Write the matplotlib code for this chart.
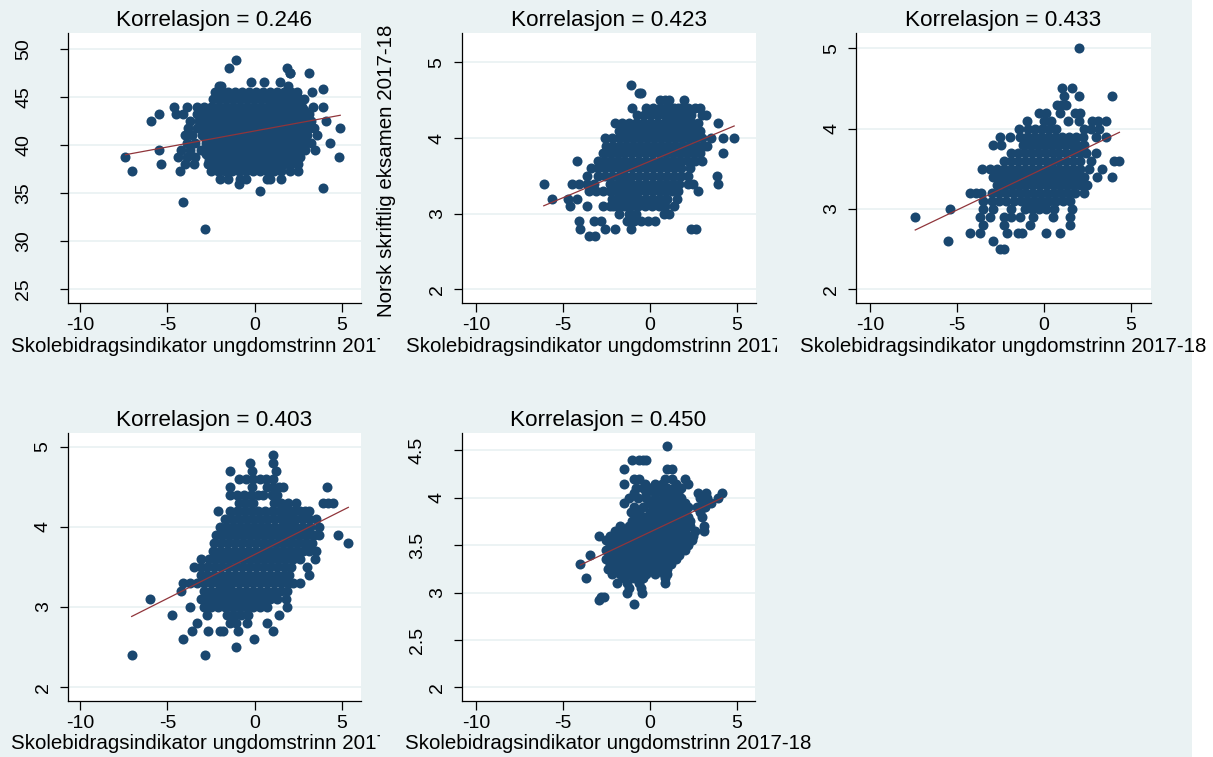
import numpy as np
import matplotlib
matplotlib.use("Agg")
import matplotlib.pyplot as plt
from matplotlib.patches import Rectangle
from matplotlib.transforms import Bbox, TransformedBbox, ScaledTranslation

plt.rcParams['font.family'] = ['Liberation Sans', 'DejaVu Sans']
plt.rcParams['axes.unicode_minus'] = False

# farger (Stata s2color)
bg = '#eaf2f3'
navy = '#1a476f'
maroon = '#90353b'

# tekster
corr_labels = ["0.246", "0.423", "0.433", "0.403", "0.450"]
xtitle = "Skolebidragsindikator ungdomstrinn 2017-18"
ytitle = "Norsk skriftlig eksamen 2017-18"
xticks = [-10, -5, 0, 5]
xticklabels = ["-10", "-5", "0", "5"]

# punkter: (y, [x-verdier]) lest av figuren
p1_rows = [
    (48.9, [-1.07]),
    (48.05, [-1.45, 1.83]),
    (47.5, [2.0, 2.05, 3.13]),
    (46.6, [-0.2, 0.55, 1.45]),
    (46.1, [-2.05, -1.9, 1.9]),
    (45.8, [3.9]),
    (45.5, [-2.3, -1.9, -1.5, -1.1, -0.7, -0.3, 0.1, 0.5, 0.9, 1.3, 1.7, 2.1, 2.4, 3.3]),
    (45.3, [0.8, 1.4, 1.9, 2.3]),
    (45.1, [1.2, 1.6, 2.0, 2.4]),
    (44.75, [-2.4, -2.0, -1.6, -1.2, -0.8, -0.4, 0.0, 0.4, 0.8, 1.2, 1.6, 2.0, 2.4, 2.8]),
    (44.4, [1.0, 1.4, 1.8, 2.2, 2.6]),
    (44.2, [0.9, 1.3, 1.7, 2.1, 2.5]),
    (44.0, [-4.6, -3.9, -3.3, -2.9, -2.5, -2.1, -1.7, -1.3, -0.9, -0.5, -0.1, 0.3, 0.7, 1.1, 1.5, 1.9, 2.3, 2.7, 3.35, 3.9]),
    (43.6, [1.2, 1.6, 2.0, 2.4, 2.8]),
    (43.25, [-5.5, -4.5, -4.1, -3.3, -2.9, -2.5, -2.1, -1.7, -1.3, -0.9, -0.5, -0.1, 0.3, 0.7, 1.1, 1.5, 1.9, 2.3, 2.7, 3.1]),
    (43.0, [1.0, 1.4, 1.8, 2.2, 2.6]),
    (42.9, [1.6, 2.0, 2.4]),
    (42.5, [-5.95, -3.7, -3.2, -2.8, -2.4, -2.0, -1.6, -1.2, -0.8, -0.4, 0.0, 0.4, 0.8, 1.2, 1.6, 2.0, 2.4, 2.8, 3.2, 4.1]),
    (41.75, [-3.8, -3.3, -2.9, -2.5, -2.1, -1.7, -1.3, -0.9, -0.5, -0.1, 0.3, 0.7, 1.1, 1.5, 1.9, 2.3, 2.7, 3.1, 3.4, 4.9]),
    (41.0, [-4.0, -3.6, -3.0, -2.6, -2.2, -1.8, -1.4, -1.0, -0.6, -0.2, 0.2, 0.6, 1.0, 1.4, 1.8, 2.2, 2.6, 3.0, 3.55]),
    (40.6, [-2.8, -2.4, -2.0, -1.6]),
    (40.25, [-3.9, -3.4, -2.8, -2.4, -2.0, -1.6, -1.2, -0.8, -0.4, 0.0, 0.4, 0.8, 1.2, 1.6, 2.0, 2.4, 2.8, 3.2, 4.3]),
    (39.9, [-2.6, -2.2, -1.8]),
    (39.5, [-5.5, -4.2, -3.7, -3.1, -2.7, -2.3, -1.9, -1.5, -1.1, -0.7, -0.3, 0.1, 0.5, 0.9, 1.3, 1.7, 2.1, 2.5, 2.9, 3.45]),
    (39.3, [-2.5, -2.1, -1.7, -1.3, -0.9]),
    (39.1, [-2.8, -2.4, -2.0, -1.6, -1.2]),
    (38.75, [-7.4, -4.4, -3.9, -3.4, -2.6, -2.2, -1.8, -1.4, -1.0, -0.6, -0.2, 0.2, 0.6, 1.0, 1.4, 1.8, 2.2, 2.6, 4.85]),
    (38.4, [-2.6, -2.2, -1.8, -1.4, -1.0]),
    (38.2, [-2.4, -2.0, -1.6, -1.2, -0.8]),
    (38.0, [-5.35, -4.0, -3.5, -2.7, -2.3, -1.9, -1.5, -1.1, -0.7, -0.3, 0.1, 0.5, 0.9, 1.3, 1.7, 2.1, 2.5]),
    (37.6, [-2.3, -1.9, -1.5, -1.1]),
    (37.25, [-7.0, -4.3, -2.5, -2.1, -1.7, -1.3, -0.9, -0.5, -0.1, 0.3, 0.7, 1.1, 1.5, 2.0, 2.5]),
    (36.5, [-2.0, -1.5, -0.85, -0.5, 0.7, 0.9, 1.5]),
    (35.9, [-0.9]),
    (35.5, [3.9]),
    (35.25, [0.3]),
    (34.1, [-4.1]),
    (31.3, [-2.85]),
]

p2_rows = [
    (4.7, [-1.1]),
    (4.6, [-0.65, -0.5]),
    (4.5, [0.6, 0.85, 1.1, 1.95]),
    (4.4, [-1.05, -0.2, 0.2, 0.6, 1.0, 1.2, 1.4, 1.6, 1.8, 2.0, 2.2, 2.6, 2.9]),
    (4.3, [-0.75, -0.35, 0.05, 0.45, 0.85, 1.05, 1.25, 1.45, 1.65, 1.85, 2.05, 2.2, 2.35, 3.0, 3.25]),
    (4.2, [-2.0, -1.6, -1.2, -0.8, -0.4, 0.0, 0.4, 0.8, 1.2, 1.4, 1.6, 1.8, 2.0, 2.2, 2.4, 2.8, 3.9]),
    (4.1, [-1.8, -1.4, -1.0, -0.6, -0.2, 0.2, 0.6, 1.0, 1.4, 1.6, 1.8, 2.0, 2.2, 2.6, 2.9]),
    (4.0, [-2.6, -2.2, -1.8, -1.4, -1.0, -0.6, -0.2, 0.2, 0.6, 1.0, 1.4, 1.8, 2.2, 2.6, 3.0, 3.5, 4.2, 4.85]),
    (3.9, [-2.5, -2.1, -1.7, -1.3, -0.9, -0.5, -0.1, 0.3, 0.7, 1.1, 1.5, 1.9, 2.3, 2.7, 3.1, 3.3]),
    (3.8, [-2.7, -2.3, -1.9, -1.5, -1.1, -0.7, -0.3, 0.1, 0.5, 0.9, 1.3, 1.7, 2.1, 2.5, 2.9, 4.2]),
    (3.7, [-4.2, -3.0, -2.6, -2.2, -1.8, -1.4, -1.0, -0.6, -0.2, 0.2, 0.6, 1.0, 1.4, 1.8, 2.2, 2.6, 3.0]),
    (3.6, [-3.4, -3.0, -2.6, -2.2, -1.8, -1.4, -1.0, -0.6, -0.2, 0.2, 0.6, 1.0, 1.4, 1.8, 2.3]),
    (3.5, [-3.6, -3.0, -2.6, -2.2, -1.8, -1.4, -1.0, -0.6, -0.2, 0.2, 0.6, 1.0, 1.4, 1.8, 2.2, 3.85]),
    (3.4, [-6.1, -4.5, -4.1, -3.6, -3.2, -2.3, -1.9, -1.7, -1.5, -1.3, -1.1, -0.7, -0.3, 0.1, 0.5, 0.9, 1.3, 1.7, 2.2, 2.5, 3.9]),
    (3.3, [-3.5, -3.1, -2.7, -2.3, -1.9, -1.7, -1.5, -1.3, -1.1, -0.7, -0.3, 0.1, 0.5, 0.9, 1.3, 1.6, 2.8]),
    (3.2, [-5.6, -4.7, -4.2, -2.2, -1.9, -1.8, -1.6, -1.4, -1.2, -1.0, -0.8, -0.6, -0.2, 0.2, 0.6, 1.0, 1.55]),
    (3.1, [-4.6, -3.6, -2.7, -2.3, -2.1, -1.9, -1.7, -1.5, -1.3, -1.1, -0.7, -0.3, 0.1, 0.5, 0.9, 1.4]),
    (3.0, [-1.8, -1.2, -0.8, 0.8, 1.1]),
    (2.9, [-4.1, -3.2, -2.8, -1.3, -0.9, -0.5, -0.1, 0.3]),
    (2.8, [-4.0, -2.6, -2.0, -1.1, 2.35, 2.65]),
    (2.7, [-3.5, -3.15]),
]

p3_rows = [
    (5.0, [2.05]),
    (4.5, [1.03, 1.6]),
    (4.4, [1.15, 2.0, 3.95]),
    (4.3, [0.75, 1.0, 1.25]),
    (4.2, [-0.26, 0.15, 0.95, 1.8, 2.1]),
    (4.1, [-0.95, 0.0, 0.4, 1.4, 2.0, 2.75, 3.1, 3.6]),
    (4.0, [-1.45, -0.9, -0.5, -0.1, 0.3, 0.7, 2.3, 2.7, 3.15]),
    (3.9, [-2.5, -1.95, -1.35, -0.95, -0.55, -0.15, 0.25, 0.65, 1.05, 1.45, 1.85, 2.25, 3.0, 3.6]),
    (3.8, [-2.9, -2.45, -1.2, -0.8, -0.4, 0.0, 0.4, 0.8, 1.2, 1.6, 1.9, 2.3]),
    (3.7, [-1.9, -1.5, -1.1, -0.7, -0.3, 0.1, 0.5, 0.9, 1.3, 1.7, 2.1, 2.4, 3.0]),
    (3.6, [-2.3, -1.9, -1.5, -1.1, -0.7, -0.3, 0.1, 0.5, 0.9, 1.3, 1.7, 2.1, 2.7, 4.05, 4.35]),
    (3.5, [-3.55, -3.1, -2.7, -2.3, -1.9, -1.5, -1.1, -0.7, -0.3, 0.1, 0.5, 0.9, 1.3, 1.7, 2.1, 2.6, 3.35]),
    (3.4, [-2.9, -2.5, -2.1, -1.7, -1.3, -0.9, -0.5, -0.1, 0.3, 0.7, 1.1, 1.5, 1.9, 2.3, 3.05, 3.9]),
    (3.3, [-2.7, -2.3, -1.9, -1.5, -1.1, -0.7, -0.3, 0.1, 0.5, 0.9, 1.3, 1.7, 2.1, 2.5]),
    (3.2, [-4.25, -3.9, -3.6, -3.0, -2.6, -2.2, -1.8, -1.4, -1.0, -0.6, -0.2, 0.2, 0.6, 1.0, 1.4, 1.8, 2.3]),
    (3.1, [-3.5, -3.0, -2.6, -2.2, -1.7, -1.3, -0.9, -0.5, -0.1, 0.3, 0.7, 1.1, 1.5]),
    (3.0, [-5.4, -3.5, -2.9, -1.9, -1.1, -0.7, -0.3, 0.1, 0.6, 1.6]),
    (2.9, [-7.4, -3.7, -3.1, -2.3, -1.9, -1.4, -0.6, 0.5, 1.5]),
    (2.8, [-3.5, -2.3, -0.8, 1.5]),
    (2.7, [-4.25, -3.65, -2.1, -1.5, -1.25, 0.1, 0.95]),
    (2.6, [-5.5, -2.9]),
    (2.5, [-2.55, -2.3]),
]

p4_rows = [
    (4.9, [1.05]),
    (4.8, [-0.25, 1.05]),
    (4.7, [-1.4, -0.15, 1.25]),
    (4.6, [-0.9, -0.5, -0.1, 0.3, 0.65, 1.05]),
    (4.5, [-1.4, -0.15, 0.7, 1.05, 1.4, 1.65, 4.15]),
    (4.4, [-1.4, -1.0, -0.6, -0.2, 0.2, 0.5, 1.0, 1.3]),
    (4.3, [-0.9, -0.5, -0.1, 1.1, 1.5, 1.9, 2.4, 3.95, 4.2, 4.5]),
    (4.2, [-2.1, -1.4, -1.0, -0.6, -0.2, 0.2, 0.6, 1.0, 1.4, 1.6, 1.8, 2.0, 2.2, 2.6, 2.9, 3.1]),
    (4.1, [-1.7, -1.3, -0.9, -0.5, -0.1, 0.3, 0.7, 1.1, 1.5, 1.7, 1.9, 2.1, 2.3, 2.7, 3.1, 3.5]),
    (4.0, [-2.0, -1.6, -1.2, -0.8, -0.4, 0.0, 0.4, 0.8, 1.2, 1.6, 2.0, 2.4, 2.8, 3.2, 3.7]),
    (3.9, [-2.2, -1.8, -1.4, -1.0, -0.6, -0.2, 0.2, 0.6, 1.0, 1.4, 1.8, 2.2, 2.6, 3.0, 3.4, 3.7, 4.8]),
    (3.8, [-2.3, -1.9, -1.5, -1.1, -0.7, -0.3, 0.1, 0.5, 0.9, 1.3, 1.7, 2.1, 2.5, 2.9, 3.3, 5.38]),
    (3.7, [-2.4, -2.0, -1.6, -1.2, -0.8, -0.4, 0.0, 0.4, 0.8, 1.2, 1.6, 2.0, 2.4, 2.8, 3.1, 3.5]),
    (3.6, [-3.1, -2.6, -2.2, -1.8, -1.4, -1.0, -0.6, -0.2, 0.2, 0.6, 1.0, 1.4, 1.8, 2.2, 2.6, 3.45]),
    (3.5, [-3.5, -3.1, -2.7, -2.3, -1.9, -1.5, -1.1, -0.7, -0.3, 0.1, 0.5, 0.9, 1.3, 1.7, 2.1, 3.0]),
    (3.4, [-3.1, -2.7, -2.3, -1.9, -1.5, -1.1, -0.7, -0.3, 0.1, 0.5, 0.9, 1.3, 1.7, 2.0, 3.15]),
    (3.3, [-4.1, -3.7, -3.3, -2.9, -2.5, -2.1, -1.9, -1.7, -1.5, -1.3, -0.9, -0.5, -0.1, 0.3, 0.7, 1.1, 1.5, 1.9, 2.2, 2.6]),
    (3.2, [-4.2, -2.9, -2.5, -2.1, -1.9, -1.7, -1.5, -1.3, -0.9, -0.5, -0.1, 0.3, 0.7, 1.1, 1.5, 1.85]),
    (3.1, [-6.0, -3.1, -2.7, -2.5, -2.3, -2.1, -1.9, -1.5, -1.1, -0.7, -0.3, 0.1, 0.5, 0.9, 1.3, 1.8]),
    (3.0, [-3.7, -2.9, -2.5, -2.1, -1.7, -1.3, -0.9, -0.5, -0.1, 0.3, 0.7, 1.85]),
    (2.9, [-4.75, -2.75, -1.6, -1.2, -0.8, -0.4, 1.4]),
    (2.8, [-3.3, -1.4, -1.05, -0.45, 0.7]),
    (2.7, [-3.6, -2.65, -2.0, -1.8, -0.95, 1.05]),
    (2.6, [-4.1, -0.05]),
    (2.5, [-1.05]),
    (2.4, [-7.05, -2.85]),
]

p5_rows = [
    (4.55, [0.97]),
    (4.4, [-1.05, -0.6, -0.4, -0.2]),
    (4.3, [-1.5, 1.0, 1.25]),
    (4.2, [-0.9, -0.6, 0.9, 1.3, 2.0]),
    (4.15, [-1.5, -0.3, 0.3, 0.7, 1.5, 2.2]),
    (4.1, [-0.8, -0.4, 0.0, 0.5, 1.0, 1.4, 1.8]),
    (4.05, [-0.9, -0.2, 0.3, 0.75, 1.2, 1.6, 2.8, 3.25, 4.15]),
    (4.0, [-1.2, -0.7, -0.2, 0.3, 0.8, 1.3, 1.8, 2.9, 3.3, 3.9]),
    (3.95, [-1.5, 0.0, 0.5, 1.0, 1.5, 2.0, 3.1, 3.5]),
    (3.9, [-0.9, -0.4, 0.2, 0.7, 1.2, 1.7, 2.2, 2.7, 3.2]),
    (3.85, [-1.1, -0.6, 0.0, 0.5, 1.0, 1.5, 2.0, 2.9]),
    (3.8, [-0.8, -0.3, 0.2, 0.7, 1.2, 1.7, 2.2, 3.0]),
    (3.75, [-1.0, -0.5, 0.0, 0.5, 1.0, 1.5, 2.0, 2.3]),
    (3.7, [-1.7, -1.2, -0.7, -0.2, 0.3, 0.8, 1.3, 1.8, 2.3, 3.1]),
    (3.65, [-2.0, -1.5, -1.0, -0.5, 0.0, 0.5, 1.0, 1.5, 2.0, 2.6, 3.1]),
    (3.6, [-2.9, -2.3, -1.8, -1.3, -0.8, -0.3, 0.2, 0.7, 1.2, 1.7, 2.2, 2.5]),
    (3.55, [-2.5, -2.0, -1.5, -1.0, -0.5, 0.0, 0.5, 1.0, 1.5, 2.0, 2.4]),
    (3.5, [-2.3, -1.8, -1.3, -0.8, -0.3, 0.2, 0.7, 1.2, 1.7, 2.2]),
    (3.45, [-2.5, -2.0, -1.5, -1.0, -0.5, 0.0, 0.5, 1.0, 1.5, 2.0]),
    (3.4, [-3.45, -2.3, -1.8, -1.3, -0.8, -0.3, 0.2, 0.7, 1.2, 1.7]),
    (3.35, [-2.5, -2.0, -1.5, -1.0, -0.5, 0.0, 0.5, 1.0, 1.5]),
    (3.3, [-4.0, -2.3, -1.8, -1.3, -0.8, -0.3, 0.2, 0.7, 1.2]),
    (3.25, [-2.4, -1.9, -1.5, -1.0, -0.5, 0.0, 0.5, 1.0]),
    (3.2, [-2.2, -1.7, -1.2, -0.7, -0.2, 0.3, 0.8, 1.0]),
    (3.15, [-3.65, -1.5, -0.9, -0.4, 0.9]),
    (3.1, [-1.9, -1.3, -0.6, 0.9]),
    (3.05, [-1.2, -0.5]),
    (3.0, [-1.3, -0.45]),
    (2.95, [-2.65, -2.8]),
    (2.92, [-2.95]),
    (2.88, [-0.9]),
]

p1_yticks = [25, 30, 35, 40, 45, 50]
p2_yticks = [2, 3, 4, 5]
p3_yticks = [2, 3, 4, 5]
p4_yticks = [2, 3, 4, 5]
p5_yticks = [2, 2.5, 3, 3.5, 4, 4.5]

W, H = 1213, 757
fig = plt.figure(figsize=(W / 100, H / 100), dpi=100, facecolor='white')
fig.patches.append(Rectangle((0, 0), 1192 / W, 1, transform=fig.transFigure,
                             facecolor=bg, edgecolor='none', zorder=-5))

# (rader, y-ticks, xlim, ylim, piksel-boks l r t b, klipp-kant for x-tittel)
panels = [
    (p1_rows, p1_yticks, (-10.69, 6.09), (23.54, 51.67), (68, 361, 33, 303), 380),
    (p2_rows, p2_yticks, (-10.82, 6.09), (1.82, 5.39), (461.7, 755.7, 33, 303), 777),
    (p3_rows, p3_yticks, (-10.81, 6.15), (1.83, 5.19), (856, 1150.7, 33, 303), None),
    (p4_rows, p4_yticks, (-10.72, 6.09), (1.83, 5.17), (67.7, 360.7, 433.3, 700.7), 380),
    (p5_rows, p5_yticks, (-10.82, 6.05), (1.86, 4.68), (461.7, 755, 433.3, 700.7), None),
]

for i, (rows, yt, xlim, ylim, box, clip_x) in enumerate(panels):
    l, r, t, b = box
    ax = fig.add_axes([l / W, 1 - b / H, (r - l) / W, (b - t) / H])
    ax.set_facecolor('white')

    xs = np.array([x for y, row in rows for x in row])
    ys = np.array([y for y, row in rows for x in row])
    ax.scatter(xs, ys, s=52, color=navy, linewidths=0, zorder=3)

    slope, icept = np.polyfit(xs, ys, 1)
    xl = np.array([xs.min(), xs.max()])
    ax.plot(xl, icept + slope * xl, color=maroon, lw=0.9, zorder=4)

    ax.set_xlim(*xlim)
    ax.set_ylim(*ylim)
    ax.set_xticks(xticks, labels=xticklabels)
    ylabs = [f"{v:g}" for v in yt]
    ax.set_yticks(yt, labels=ylabs)
    ax.grid(axis='y', color=bg, lw=1.3)
    ax.set_axisbelow(True)
    for s in ['top', 'right']:
        ax.spines[s].set_visible(False)
    for s in ['left', 'bottom']:
        ax.spines[s].set_color('black')
        ax.spines[s].set_linewidth(0.9)
    ax.tick_params(axis='x', direction='out', length=6.5, width=0.9, labelsize=14, pad=3.5)
    ax.tick_params(axis='y', direction='out', length=6, width=0.9, labelsize=14, pad=5.5,
                   labelrotation=90)
    for lab in ax.get_yticklabels():
        lab.set_va('center')
        if len(lab.get_text()) > 1:
            lab.set_transform(lab.get_transform() +
                              ScaledTranslation(-0.2, 0, fig.dpi_scale_trans))

    ax.set_title("Korrelasjon = " + corr_labels[i], fontsize=16.2, pad=5)

    xl_txt = ax.set_xlabel(xtitle, fontsize=14.8, labelpad=2)
    if clip_x is not None:
        cb = TransformedBbox(Bbox.from_extents(0, 0, clip_x / W, 1), fig.transFigure)
        xl_txt.set_clip_box(cb)
        xl_txt.set_clip_on(True)

fig.text(387 / W, 1 - 171 / H, ytitle, rotation=90, ha='center', va='center', fontsize=14.8)

fig.savefig("out.png", dpi=100, facecolor=fig.get_facecolor())
